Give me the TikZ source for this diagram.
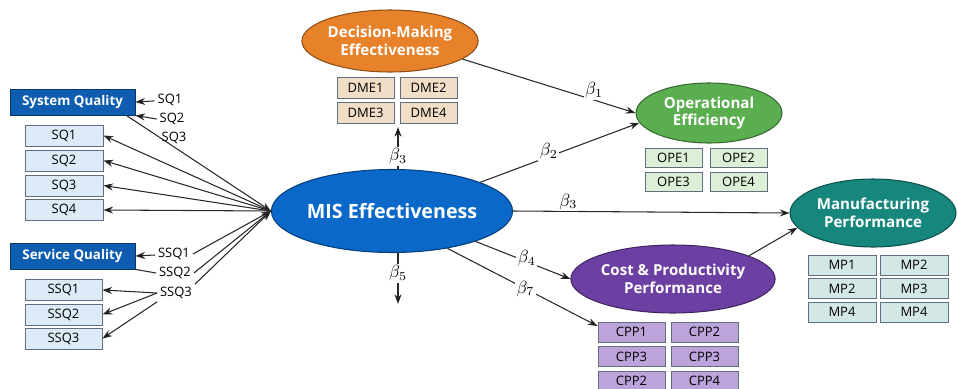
\documentclass[tikz,border=0pt]{standalone}
\usepackage{amsmath}
\usepackage{fontspec}
\setsansfont{Open Sans}
\usepackage{tikz}
\usetikzlibrary{positioning,shapes.geometric,arrows.meta}
\definecolor{consblue}{HTML}{0E5DB0}
\definecolor{misblue}{HTML}{0A68C8}
\definecolor{sqfill}{HTML}{DDEBF8}
\definecolor{dmeorange}{HTML}{E8822A}
\definecolor{dmefill}{HTML}{F2DEC6}
\definecolor{opegreen}{HTML}{5BAE50}
\definecolor{opefill}{HTML}{DDEFD7}
\definecolor{mpteal}{HTML}{17877E}
\definecolor{mpfill}{HTML}{D3E8E6}
\definecolor{cpppurple}{HTML}{6C3FA3}
\definecolor{cppfill}{HTML}{BCA3DA}
\definecolor{boxline}{HTML}{5F6F7F}
\definecolor{linkgray}{HTML}{282828}

\begin{document}
\begin{tikzpicture}[x=0.02cm, y=-0.02cm,
  >={Stealth[length=5.5pt,width=4pt]},
  latent/.style={ellipse, draw=#1!60!black, line width=0.6pt, fill=#1, text=white,
    align=center, inner sep=0pt, font=\sffamily\bfseries\fontsize{8.6}{10}\selectfont},
  item/.style={draw=boxline, line width=0.55pt, fill=#1, inner sep=0pt,
    font=\sffamily\fontsize{7.4}{8}\selectfont},
  cons/.style={draw=consblue!60!black, line width=0.5pt, fill=consblue, text=white,
    minimum width=2.5cm, minimum height=0.52cm, inner sep=0pt,
    font=\sffamily\bfseries\fontsize{7.6}{9}\selectfont},
  lbl/.style={inner sep=1.5pt, font=\sffamily\fontsize{7.4}{8}\selectfont},
  coef/.style={fill=white, inner sep=0.8pt, font=\fontsize{9.8}{10}\selectfont},
  link/.style={draw=linkgray, line width=0.6pt}
]
\useasboundingbox (0,0) rectangle (958,389);

% latent constructs
\node[latent=dmeorange, minimum width=3.08cm, minimum height=1.24cm] (DME) at (390,41) {Decision-Making\\Effectiveness};
\node[latent=misblue, minimum width=4.64cm, minimum height=1.66cm, font=\sffamily\bfseries\fontsize{11.2}{13}\selectfont] (MIS) at (392,211) {MIS Effectiveness};
\node[latent=opegreen, minimum width=2.92cm, minimum height=1.2cm] (OPE) at (709,113) {Operational\\Efficiency};
\node[latent=mpteal, minimum width=3.32cm, minimum height=1.36cm] (MANU) at (873,213) {Manufacturing\\Performance};
\node[latent=cpppurple, minimum width=3.88cm, minimum height=1.36cm] (CPP) at (673,279) {Cost \& Productivity\\Performance};

% decision-making items
\node[item=dmefill, minimum width=1.14cm, minimum height=0.42cm] (DME1) at (365.5,87.5) {DME1};
\node[item=dmefill, minimum width=1.14cm, minimum height=0.42cm] (DME2) at (428.5,87.5) {DME2};
\node[item=dmefill, minimum width=1.14cm, minimum height=0.42cm] (DME3) at (365.5,112.5) {DME3};
\node[item=dmefill, minimum width=1.14cm, minimum height=0.42cm] (DME4) at (428.5,112.5) {DME4};

% operational efficiency items
\node[item=opefill, minimum width=1.14cm, minimum height=0.38cm] (OPE1) at (673.5,157.5) {OPE1};
\node[item=opefill, minimum width=1.14cm, minimum height=0.38cm] (OPE2) at (738.5,157.5) {OPE2};
\node[item=opefill, minimum width=1.14cm, minimum height=0.38cm] (OPE3) at (673.5,181.5) {OPE3};
\node[item=opefill, minimum width=1.14cm, minimum height=0.38cm] (OPE4) at (738.5,181.5) {OPE4};

% manufacturing items
\node[item=mpfill, minimum width=1.36cm, minimum height=0.4cm] (MP1) at (842,265) {MP1};
\node[item=mpfill, minimum width=1.36cm, minimum height=0.4cm] (MP2) at (914,265) {MP2};
\node[item=mpfill, minimum width=1.36cm, minimum height=0.4cm] (MP3) at (842,288.5) {MP2};
\node[item=mpfill, minimum width=1.36cm, minimum height=0.4cm] (MP4) at (914,288.5) {MP3};
\node[item=mpfill, minimum width=1.36cm, minimum height=0.4cm] (MP5) at (842,312) {MP4};
\node[item=mpfill, minimum width=1.36cm, minimum height=0.4cm] (MP6) at (914,312) {MP4};

% cost & productivity items
\node[item=cppfill, minimum width=1.34cm, minimum height=0.4cm] (CPP1) at (631.5,332) {CPP1};
\node[item=cppfill, minimum width=1.34cm, minimum height=0.4cm] (CPP2) at (704.5,332) {CPP2};
\node[item=cppfill, minimum width=1.34cm, minimum height=0.4cm] (CPP3) at (631.5,356.5) {CPP3};
\node[item=cppfill, minimum width=1.34cm, minimum height=0.4cm] (CPP4) at (704.5,356.5) {CPP3};
\node[item=cppfill, minimum width=1.34cm, minimum height=0.4cm] (CPP5) at (631.5,381) {CPP2};
\node[item=cppfill, minimum width=1.34cm, minimum height=0.4cm] (CPP6) at (704.5,381) {CPP4};

% system quality
\node[cons] (SysQ) at (72.5,102) {System Quality};
\node[item=sqfill, minimum width=1.56cm, minimum height=0.42cm] (SQ1) at (64,135.5) {SQ1};
\node[item=sqfill, minimum width=1.56cm, minimum height=0.42cm] (SQ2) at (64,160.5) {SQ2};
\node[item=sqfill, minimum width=1.56cm, minimum height=0.42cm] (SQ3) at (64,185.5) {SQ3};
\node[item=sqfill, minimum width=1.56cm, minimum height=0.42cm] (SQ4) at (64,210) {SQ4};
\node[lbl] (sq1l) at (170,100) {SQ1};
\node[lbl] (sq2l) at (172,119) {SQ2};
\node[lbl] (sq3l) at (174,138) {SQ3};

% service quality
\node[cons] (SerQ) at (72.5,256) {Service Quality};
\node[item=sqfill, minimum width=1.54cm, minimum height=0.42cm] (SSQ1) at (63.5,290) {SSQ1};
\node[item=sqfill, minimum width=1.54cm, minimum height=0.42cm] (SSQ2) at (63.5,314.5) {SSQ2};
\node[item=sqfill, minimum width=1.54cm, minimum height=0.42cm] (SSQ3) at (63.5,338.5) {SSQ3};
\node[lbl] (ssq1l) at (174,254) {SSQ1};
\node[lbl] (ssq2l) at (175,273) {SSQ2};
\node[lbl] (ssq3l) at (176,293) {SSQ3};

\coordinate (dmetip) at (398,127);
\coordinate (b5tip) at (398,304);

\draw[link]
	(sq1l) edge[->] (SysQ.east)
	(sq2l.west) edge[->] (SysQ.south east)
	(SysQ.-14) edge[->] (MIS.west)
	(MIS.west) edge[->] (SQ1.east)
	(MIS.west) edge[->] (SQ2.east)
	(MIS.west) edge[->] (SQ3.east)
	(MIS.west) edge[->] (SQ4.east)
	(ssq1l) edge[->] (SerQ.east)
	(SerQ.south east) edge (ssq2l.west)
	(ssq3l.west) edge[->] (SSQ1.east)
	(ssq3l.west) edge[->] (SSQ2.east)
	(ssq3l.south west) edge[->] (SSQ3.east)
	(ssq1l.east) edge[->] (MIS.west)
	(ssq2l.east) edge[->] (MIS.west)
	(ssq3l.north east) edge[->] (MIS.west)
;

\draw[link]
	(MIS.north -| dmetip) edge[->] node[coef, pos=0.3]{$\beta_3$} (dmetip)
	(MIS.south -| b5tip) edge[->] node[coef, pos=0.4]{$\beta_5$} (b5tip)
	(DME.-14) edge[->] node[coef, pos=0.76, above]{$\beta_1$} (OPE.180)
	(MIS.18) edge[->] node[coef, pos=0.43, yshift=3pt]{$\beta_2$} (OPE.188)
	(MIS.east) edge[->] node[coef, pos=0.2, above]{$\beta_3$} (MANU.west)
	(MIS.-20) edge[->] node[coef, pos=0.54, yshift=2pt]{$\beta_4$} (CPP.west)
	(MIS.-34) edge[->] node[coef, pos=0.52]{$\beta_7$} (CPP1.170)
	(CPP.17) edge[->] (MANU.191)
;
\end{tikzpicture}
\end{document}
